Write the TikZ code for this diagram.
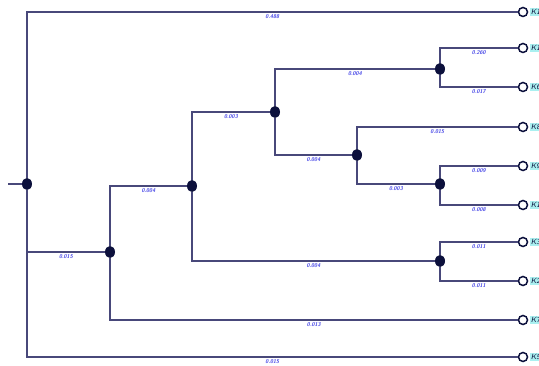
\documentclass[tikz,border=0pt]{standalone}
\usetikzlibrary{shapes.geometric}
\definecolor{branchcol}{RGB}{72,72,122}
\definecolor{dotcol}{RGB}{12,16,60}
\definecolor{lencol}{RGB}{70,70,230}
\definecolor{tagcol}{RGB}{170,240,240}

\begin{document}
\begin{tikzpicture}[
  x=1pt, y=-1pt,
  branch/.style = {draw=branchcol, line width=1.8pt},
  joint/.style = {ellipse, fill=dotcol, inner sep=0pt, minimum width=10pt, minimum height=12pt},
  leaf/.style = {circle, draw=dotcol, line width=1.5pt, inner sep=0pt, minimum size=9pt},
  tag/.style = {right=1.5pt, fill=tagcol, inner sep=1pt, font=\fontsize{7.5}{8}\selectfont\sffamily\itshape, text=dotcol},
  len/.style = {pos=0.75, below=0.5pt, inner sep=1pt, font=\fontsize{5.5}{6}\selectfont\sffamily\bfseries\itshape, text=lencol}
]
  \useasboundingbox (0,0) rectangle (539,366);
  \clip (0,0) rectangle (539,366);

  % Nodes
  \node[joint] (root) at (27,184) {};
  \node[joint] (n1) at (110,252) {};
  \node[joint] (n2) at (192,186) {};
  \node[joint] (n3) at (275,112) {};
  \node[joint] (n4) at (440,69) {};
  \node[joint] (n5) at (357,155) {};
  \node[joint] (n6) at (440,184) {};
  \node[joint] (n7) at (440,261) {};
  \coordinate (stub) at (8,184);

  % Leaves
  \node[leaf] (k1a) at (523,12) {};
  \node[leaf] (k1b) at (523,48) {};
  \node[leaf] (k6) at (523,87) {};
  \node[leaf] (k8) at (523,127) {};
  \node[leaf] (k9) at (523,166) {};
  \node[leaf] (k1c) at (523,205) {};
  \node[leaf] (k3) at (523,242) {};
  \node[leaf] (k2) at (523,281) {};
  \node[leaf] (k7) at (523,320) {};
  \node[leaf] (k5) at (523,357) {};
  \node[tag] at (k1a.east) {K1};
  \node[tag] at (k1b.east) {K1};
  \node[tag] at (k6.east) {K6};
  \node[tag] at (k8.east) {K8};
  \node[tag] at (k9.east) {K9};
  \node[tag] at (k1c.east) {K1};
  \node[tag] at (k3.east) {K3};
  \node[tag] at (k2.east) {K2};
  \node[tag] at (k7.east) {K7};
  \node[tag] at (k5.east) {K5};

  % Connections
  \draw[branch] (stub) -- (root);
  \draw[branch] (root) |- node[len]{0.488} (k1a);
  \draw[branch] (root) |- node[len]{0.015} (n1);
  \draw[branch] (root) |- node[len]{0.015} (k5);
  \draw[branch] (n1) |- node[len]{0.004} (n2);
  \draw[branch] (n1) |- node[len]{0.013} (k7);
  \draw[branch] (n2) |- node[len]{0.003} (n3);
  \draw[branch] (n2) |- node[len]{0.004} (n7);
  \draw[branch] (n3) |- node[len]{0.004} (n4);
  \draw[branch] (n3) |- node[len]{0.004} (n5);
  \draw[branch] (n4) |- node[len]{0.260} (k1b);
  \draw[branch] (n4) |- node[len]{0.017} (k6);
  \draw[branch] (n5) |- node[len]{0.015} (k8);
  \draw[branch] (n5) |- node[len]{0.003} (n6);
  \draw[branch] (n6) |- node[len]{0.009} (k9);
  \draw[branch] (n6) |- node[len]{0.008} (k1c);
  \draw[branch] (n7) |- node[len]{0.011} (k3);
  \draw[branch] (n7) |- node[len]{0.011} (k2);

\end{tikzpicture}
\end{document}
